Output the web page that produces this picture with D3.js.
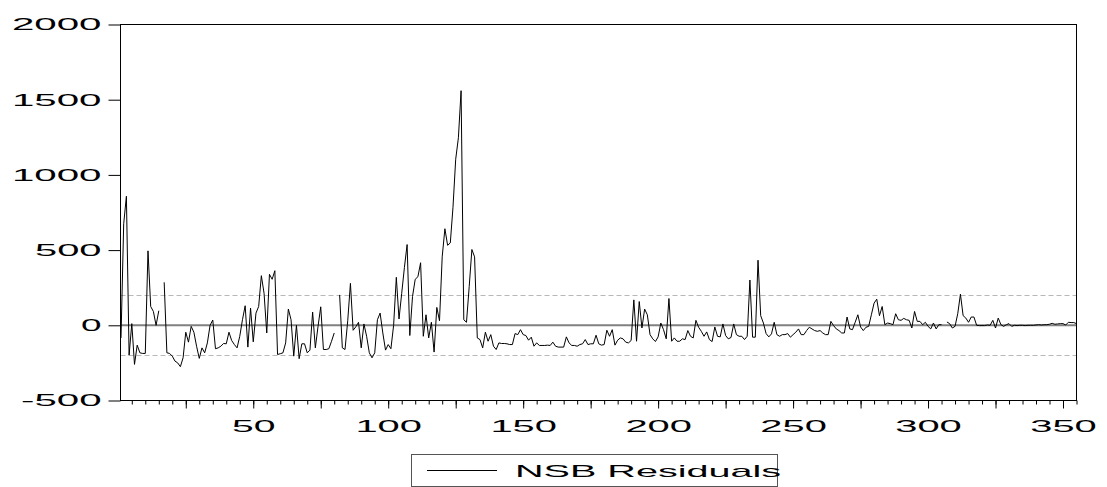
<!DOCTYPE html>
<html>
<head>
<meta charset="utf-8">
<script src="https://cdn.jsdelivr.net/npm/d3@7"></script>
<style>
  html, body { margin: 0; padding: 0; background: #fff; }
  svg { display: block; }
  text { font-family: "Liberation Sans", Arial, sans-serif; fill: #000; }
</style>
</head>
<body>
<svg id="chart" width="1107" height="487"></svg>
<script>
const residuals = [
  -84, 675, 858, -198, 11, -260, -132, -183, -187, -187,
  495, 125, 92, 0, 97, null, 286, -183, -187, -205,
  -238, -250, -275, -216, -46, -112, -7, -46, -139, -220,
  -150, -183, -117, 0, 35, -156, -150, -139, -121, -123,
  -46, -101, -128, -150, -73, 37, 130, -145, 114, -110,
  81, 125, 330, 213, -51, 339, 306, 363, -194, -189,
  -183, -117, 108, 37, -205, 0, -222, -123, -123, -183,
  -165, 88, -150, -7, 123, -161, -161, -156, -106, -51,
  null, 202, -150, -161, 30, 279, -33, -10, 20, -150,
  9, -73, -183, -216, -183, 37, 81, -51, -165, -128,
  -156, 0, 319, 42, 213, 385, 537, -68, 191, 306,
  323, 416, -73, 70, -84, 20, -178, 119, 30, 455,
  642, 532, 548, 785, 1104, 1247, 1560, 37, 20, 257,
  504, 455, -84, -95, -150, -46, -106, -62, -139, -161,
  -117, -121, -121, -123, -128, -128, -55, -62, -29, -62,
  -68, -99, -79, -139, -117, -134, -134, -134, -132, -134,
  -112, -139, -145, -145, -145, -77, -117, -134, -134, -139,
  -128, -123, -95, -128, -123, -123, -66, -123, -132, -128,
  -33, -73, -29, -132, -99, -84, -90, -112, -117, -101,
  169, -106, 158, -18, 108, 70, -62, -90, -108, -77,
  15, -29, -90, 178, -106, -84, -106, -106, -90, -95,
  -35, -73, -84, 33, -13, -40, -73, -44, -95, -108,
  -11, -73, -77, 9, -68, -90, -81, 9, -62, -73,
  -73, -95, -73, 301, -79, -79, 433, 64, 15, -55,
  -77, -57, 20, -62, -73, -62, -62, -55, -79, -62,
  -46, -24, -62, -62, -35, -13, -24, -35, -40, -35,
  -51, -62, -62, 26, -2, -24, -35, -51, -51, 55,
  -24, -29, 20, 70, -11, -35, -13, -7, 70, 147,
  174, 64, 125, 4, 15, 11, 4, 77, 37, 33,
  46, 37, 33, -18, 92, 26, 26, 4, 20, -7,
  -24, 15, -24, 4, 4, null, 22, 11, -18, -7,
  77, 207, 64, 48, 20, 55, 55, 0, -2, -2,
  -2, 2, 0, 33, -18, 48, 4, -7, 4, 11,
  -7, 0, -2, 0, 0, -2, 0, 0, 0, 2,
  4, 2, 4, 4, 7, 13, 7, 9, 11, 11,
  2, 20, 18, 18, 11
];
const observations = d3.range(1, residuals.length + 1);
const yTickValues = [-500, 0, 500, 1000, 1500, 2000];
const xMinorTicks = d3.range(5, 356, 5);
const xMajorTicks = d3.range(25, 356, 25);
const xLabelTicks = [50, 100, 150, 200, 250, 300, 350];
const bandLines = [-200, 200];
const seriesName = "NSB Residuals";

// ---- layout ----
const plotLeft = 120.5, plotRight = 1076.5, plotTop = 24.5, plotBottom = 400.5;
const svg = d3.select("#chart");

const x = d3.scaleLinear().domain([1, residuals.length]).range([plotLeft + 0.5, plotRight]);
const y = d3.scaleLinear().domain([-500, 2000]).range([plotBottom, plotTop]);

const textWidth = s => [...String(s)].reduce((a, c) => a + (c === "-" ? 14 : 23), 0) - 2.5;

// dashed band lines
svg.append("g").selectAll("line").data(bandLines).join("line")
  .attr("x1", plotLeft).attr("x2", plotRight)
  .attr("y1", d => Math.round(y(d)) + 0.5).attr("y2", d => Math.round(y(d)) + 0.5)
  .attr("stroke", "#b8b8b8").attr("stroke-width", 1)
  .attr("stroke-dasharray", "5,3");

// zero line
svg.append("line")
  .attr("x1", plotLeft).attr("x2", plotRight)
  .attr("y1", y(0)).attr("y2", y(0))
  .attr("stroke", "#808080").attr("stroke-width", 2);

// data line
const line = d3.line()
  .defined(d => d.v !== null)
  .x(d => x(d.i))
  .y(d => y(d.v));
svg.append("path")
  .datum(observations.map((i, k) => ({ i, v: residuals[k] })))
  .attr("d", line)
  .attr("fill", "none")
  .attr("stroke", "#000")
  .attr("stroke-width", 1)
  .attr("stroke-linejoin", "miter");

// frame
svg.append("rect")
  .attr("x", plotLeft).attr("y", plotTop)
  .attr("width", plotRight - plotLeft).attr("height", plotBottom - plotTop)
  .attr("fill", "none").attr("stroke", "#000").attr("stroke-width", 1);

// y axis
const yAxis = svg.append("g")
  .attr("transform", `translate(${plotLeft},0)`)
  .call(d3.axisLeft(y).tickValues(yTickValues).tickSize(12).tickPadding(7).tickFormat(d => String(d)));
yAxis.select(".domain").remove();
yAxis.selectAll(".tick line").attr("stroke", "#000");
yAxis.selectAll(".tick text")
  .attr("font-size", 17)
  .attr("font-family", "Liberation Sans, Arial, sans-serif")
  .attr("textLength", d => textWidth(d))
  .attr("lengthAdjust", "spacingAndGlyphs");

// x axis: minor ticks
const xMinor = svg.append("g")
  .attr("transform", `translate(0,${plotBottom})`)
  .call(d3.axisBottom(x).tickValues(xMinorTicks).tickSize(4).tickFormat(""));
xMinor.select(".domain").remove();
xMinor.selectAll(".tick line").attr("stroke", "#000");

// x axis: major ticks + labels
const xMajor = svg.append("g")
  .attr("transform", `translate(0,${plotBottom})`)
  .call(d3.axisBottom(x).tickValues(xMajorTicks).tickSize(8)
    .tickFormat(d => xLabelTicks.includes(d) ? String(d) : ""));
xMajor.select(".domain").remove();
xMajor.selectAll(".tick line").attr("stroke", "#000");
xMajor.selectAll(".tick text")
  .attr("y", 19)
  .attr("font-size", 17)
  .attr("font-family", "Liberation Sans, Arial, sans-serif")
  .each(function(d) {
    if (xLabelTicks.includes(d)) {
      d3.select(this).attr("textLength", textWidth(d)).attr("lengthAdjust", "spacingAndGlyphs");
    }
  });

// legend
const lg = svg.append("g");
lg.append("rect")
  .attr("x", 411.5).attr("y", 454.5).attr("width", 366).attr("height", 32)
  .attr("fill", "#fff").attr("stroke", "#555").attr("stroke-width", 1);
lg.append("line")
  .attr("x1", 427).attr("x2", 497).attr("y1", 470.5).attr("y2", 470.5)
  .attr("stroke", "#000").attr("stroke-width", 1);
lg.append("text")
  .attr("x", 515).attr("y", 477)
  .attr("font-size", 17)
  .attr("textLength", 266).attr("lengthAdjust", "spacingAndGlyphs")
  .text(seriesName);
</script>
</body>
</html>
